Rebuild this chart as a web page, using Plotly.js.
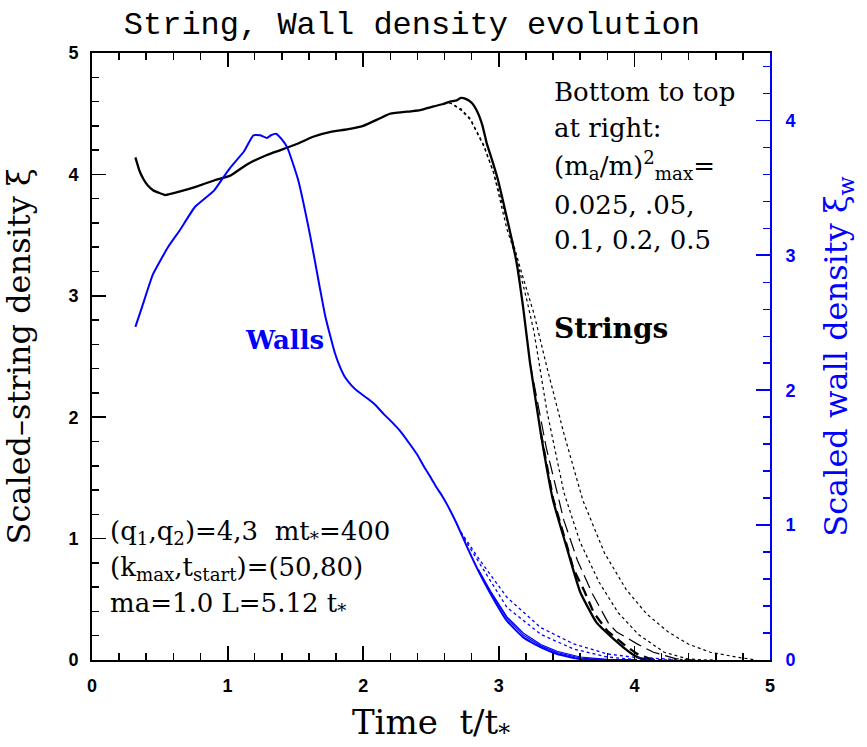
<!DOCTYPE html>
<html>
<head>
<meta charset="utf-8">
<script src="https://cdn.plot.ly/plotly-3.0.1.min.js"></script>
<style>html,body{margin:0;padding:0;background:#fff;}#chart{width:867px;height:747px;}</style>
</head>
<body>
<div id="chart"></div>
<script>
// Strings, (m_a/m)^2_max = 0.025 (solid, full curve)
const strX025 = [0.32,0.35,0.38,0.41,0.45,0.49,0.54,0.65,0.77,0.90,1.02,1.14,1.29,1.39,1.51,1.63,1.76,1.88,2.00,2.12,2.20,2.35,2.42,2.52,2.59,2.64,2.69,2.72,2.76,2.80,2.84,2.88,2.91,2.95,2.99,3.06,3.13,3.18,3.23,3.31,3.40,3.50,3.60,3.72,3.85,3.97,4.04,4.12];
const strY025 = [4.14,4.03,3.96,3.91,3.87,3.85,3.83,3.86,3.90,3.95,3.99,4.08,4.16,4.20,4.25,4.31,4.35,4.37,4.40,4.46,4.50,4.52,4.53,4.56,4.58,4.60,4.61,4.63,4.62,4.59,4.52,4.40,4.26,4.12,3.97,3.64,3.28,2.90,2.45,1.865,1.315,0.93,0.56,0.31,0.17,0.06,0.015,0];
// 0.05 (thick dashed), diverges late
const strX05 = [3.31,3.40,3.50,3.55,3.63,3.70,3.80,3.92,4.02,4.10,4.18];
const strY05 = [1.87,1.33,0.95,0.75,0.57,0.39,0.24,0.13,0.05,0.015,0];
// 0.1 (thin long dashed)
const strX1 = [3.23,3.35,3.48,3.58,3.69,3.81,3.87,4.02,4.14,4.31,4.45];
const strY1 = [2.45,1.75,1.15,0.82,0.546,0.30,0.23,0.133,0.064,0.01,0];
// 0.2 (dotted)
const strX2 = [2.59,2.64,2.72,2.79,2.89,2.96,3.06,3.13,3.21,3.26,3.355,3.48,3.60,3.74,3.88,4.03,4.22,4.39,4.50];
const strY2 = [4.58,4.59,4.54,4.46,4.24,4.02,3.55,3.31,2.95,2.70,2.05,1.38,0.97,0.64,0.39,0.21,0.064,0.01,0];
// 0.5 (dotted)
const strX5 = [2.59,2.64,2.72,2.79,2.89,2.96,3.06,3.16,3.26,3.355,3.48,3.62,3.78,3.94,4.09,4.25,4.40,4.56,4.76,4.90];
const strY5 = [4.58,4.59,4.53,4.45,4.23,4.02,3.62,3.22,2.85,2.41,1.865,1.315,0.88,0.58,0.38,0.23,0.13,0.064,0.023,0];

// Walls (right axis), main solid curve
const wallX = [0.32,0.37,0.45,0.56,0.65,0.76,0.90,0.97,1.02,1.12,1.19,1.24,1.29,1.32,1.36,1.40,1.44,1.52,1.61,1.68,1.72,1.76,1.79,1.83,1.87,1.91,1.95,2.03,2.09,2.15,2.21,2.27,2.33,2.40,2.45,2.50,2.54,2.58,2.62,2.69,2.77,2.85,2.94,3.06,3.18,3.31,3.43,3.60,3.80,4.00];
const wallY = [2.47,2.62,2.86,3.06,3.19,3.36,3.48,3.58,3.65,3.77,3.89,3.89,3.87,3.89,3.90,3.86,3.80,3.56,3.14,2.76,2.55,2.39,2.28,2.17,2.09,2.04,2.00,1.94,1.89,1.825,1.765,1.70,1.62,1.52,1.43,1.35,1.28,1.22,1.15,1.01,0.83,0.66,0.49,0.29,0.168,0.094,0.045,0.007,0,0];
// other solid wall curves (tails only)
const wallX2 = [2.85,2.94,3.06,3.18,3.31,3.43,3.60,3.80];
const wallY2 = [0.665,0.50,0.31,0.185,0.105,0.055,0.015,0];
const wallX3 = [2.85,2.94,3.06,3.18,3.31,3.43,3.60,3.80,4.00];
const wallY3 = [0.67,0.51,0.32,0.20,0.115,0.065,0.022,0.004,0];
// dotted wall curves
const wallXd1 = [2.72,2.86,3.06,3.31,3.55,3.80,4.00,4.30];
const wallYd1 = [0.94,0.71,0.39,0.19,0.082,0.022,0.005,0];
const wallXd2 = [2.72,2.86,3.06,3.31,3.55,3.80,4.00,4.30,4.60];
const wallYd2 = [0.95,0.74,0.465,0.24,0.12,0.045,0.02,0.004,0];

const xTicks = [0,1,2,3,4,5];
const yTicks = [0,1,2,3,4,5];
const y2Ticks = [0,1,2,3,4];

// text lines
const noteLines = ['Bottom to top', 'at right:', '(m<sub>a</sub>/m)<sup>2</sup><sub>max</sub>=', '0.025, .05,', '0.1, 0.2, 0.5'];
const noteY = [4.68, 4.38, 4.07, 3.75, 3.46];
const paramLines = ['(q<sub>1</sub>,q<sub>2</sub>)=4,3  mt<sub>*</sub>=400', '(k<sub>max</sub>,t<sub>start</sub>)=(50,80)', 'ma=1.0 L=5.12 t<sub>*</sub>'];
const paramY = [1.05, 0.755, 0.455];

const BLUE = '#0000ff';
const traces = [
  {x: wallXd2, y: wallYd2, yaxis: 'y2', mode: 'lines', line: {color: BLUE, width: 1.3, dash: 'dot'}},
  {x: wallXd1, y: wallYd1, yaxis: 'y2', mode: 'lines', line: {color: BLUE, width: 1.3, dash: 'dot'}},
  {x: wallX3, y: wallY3, yaxis: 'y2', mode: 'lines', line: {color: BLUE, width: 1.2}},
  {x: wallX2, y: wallY2, yaxis: 'y2', mode: 'lines', line: {color: BLUE, width: 1.2}},
  {x: wallX, y: wallY, yaxis: 'y2', mode: 'lines', line: {color: BLUE, width: 2, shape: 'spline', smoothing: 0.4}},
  {x: strX5, y: strY5, mode: 'lines', line: {color: 'black', width: 1.2, dash: 'dot'}},
  {x: strX2, y: strY2, mode: 'lines', line: {color: 'black', width: 1.2, dash: 'dot'}},
  {x: strX1, y: strY1, mode: 'lines', line: {color: 'black', width: 1.2, dash: '14px,6px'}},
  {x: strX05, y: strY05, mode: 'lines', line: {color: 'black', width: 2.3, dash: '10px,6px'}},
  {x: strX025, y: strY025, mode: 'lines', line: {color: 'black', width: 2.3, shape: 'spline', smoothing: 0.4}}
];

const serif = 'DejaVu Serif';
const annotations = [];
noteLines.forEach((t, i) => annotations.push({xref: 'x', yref: 'y', x: 3.39, y: noteY[i], xanchor: 'left', yanchor: 'middle', showarrow: false, text: t, font: {family: serif, size: 26, color: 'black'}}));
paramLines.forEach((t, i) => annotations.push({xref: 'x', yref: 'y', x: 0.12, y: paramY[i], xanchor: 'left', yanchor: 'middle', showarrow: false, text: t, font: {family: serif, size: 26, color: 'black'}}));
annotations.push({xref: 'x', yref: 'y', x: 3.39, y: 2.73, xanchor: 'left', yanchor: 'middle', showarrow: false, text: '<b>Strings</b>', font: {family: serif, size: 28, color: 'black'}});
annotations.push({xref: 'x', yref: 'y', x: 1.11, y: 2.64, xanchor: 'left', yanchor: 'middle', showarrow: false, text: '<b>Walls</b>', font: {family: serif, size: 26, color: BLUE}});

const layout = {
  width: 867, height: 747,
  margin: {l: 92, r: 97, t: 53, b: 87},
  paper_bgcolor: 'white', plot_bgcolor: 'white',
  showlegend: false,
  title: {text: 'String, Wall density evolution', font: {family: 'Liberation Mono', size: 32, color: 'black'}, x: 0.475, xanchor: 'center', y: 0.97, yanchor: 'middle'},
  xaxis: {
    range: [0, 5], tickvals: xTicks, ticktext: xTicks.map(String),
    showgrid: false, zeroline: false, showline: true, linecolor: 'black', linewidth: 2,
    mirror: 'ticks', ticks: 'inside', ticklen: 14, tickwidth: 1.8, tickcolor: 'black',
    minor: {dtick: 0.2, ticks: 'inside', ticklen: 7, tickwidth: 1.5, tickcolor: 'black'},
    tickfont: {family: 'Liberation Sans', size: 18, color: 'black', weight: 'bold'},
    ticklabelstandoff: 8,
    title: {text: 'Time\u00a0\u00a0t/t<sub>*</sub>', font: {family: serif, size: 34, color: 'black'}, standoff: 19}
  },
  yaxis: {
    range: [0, 5], tickvals: yTicks, ticktext: yTicks.map(String),
    showgrid: false, zeroline: false, showline: true, linecolor: 'black', linewidth: 2,
    mirror: false, ticks: 'inside', ticklen: 14, tickwidth: 1.8, tickcolor: 'black',
    minor: {dtick: 0.2, ticks: 'inside', ticklen: 7, tickwidth: 1.5, tickcolor: 'black'},
    tickfont: {family: 'Liberation Sans', size: 18, color: 'black', weight: 'bold'},
    ticklabelstandoff: 8,
    title: {text: 'Scaled\u2013string density \u03be', font: {family: serif, size: 32, color: 'black'}, standoff: 39}
  },
  yaxis2: {
    range: [0, 4.5], overlaying: 'y', side: 'right', tickvals: y2Ticks, ticktext: y2Ticks.map(String),
    showgrid: false, zeroline: false, showline: true, linecolor: BLUE, linewidth: 2,
    ticks: 'inside', ticklen: 14, tickwidth: 1.8, tickcolor: BLUE,
    minor: {dtick: 0.2, ticks: 'inside', ticklen: 7, tickwidth: 1.5, tickcolor: BLUE},
    tickfont: {family: 'Liberation Sans', size: 18, color: BLUE, weight: 'bold'},
    ticklabelstandoff: 10,
    title: {text: 'Scaled wall density \u03be<sub>w</sub>', font: {family: serif, size: 32, color: BLUE}, standoff: 30}
  },
  annotations: annotations
};
Plotly.newPlot('chart', traces, layout, {staticPlot: true, displayModeBar: false});
</script>
</body>
</html>
